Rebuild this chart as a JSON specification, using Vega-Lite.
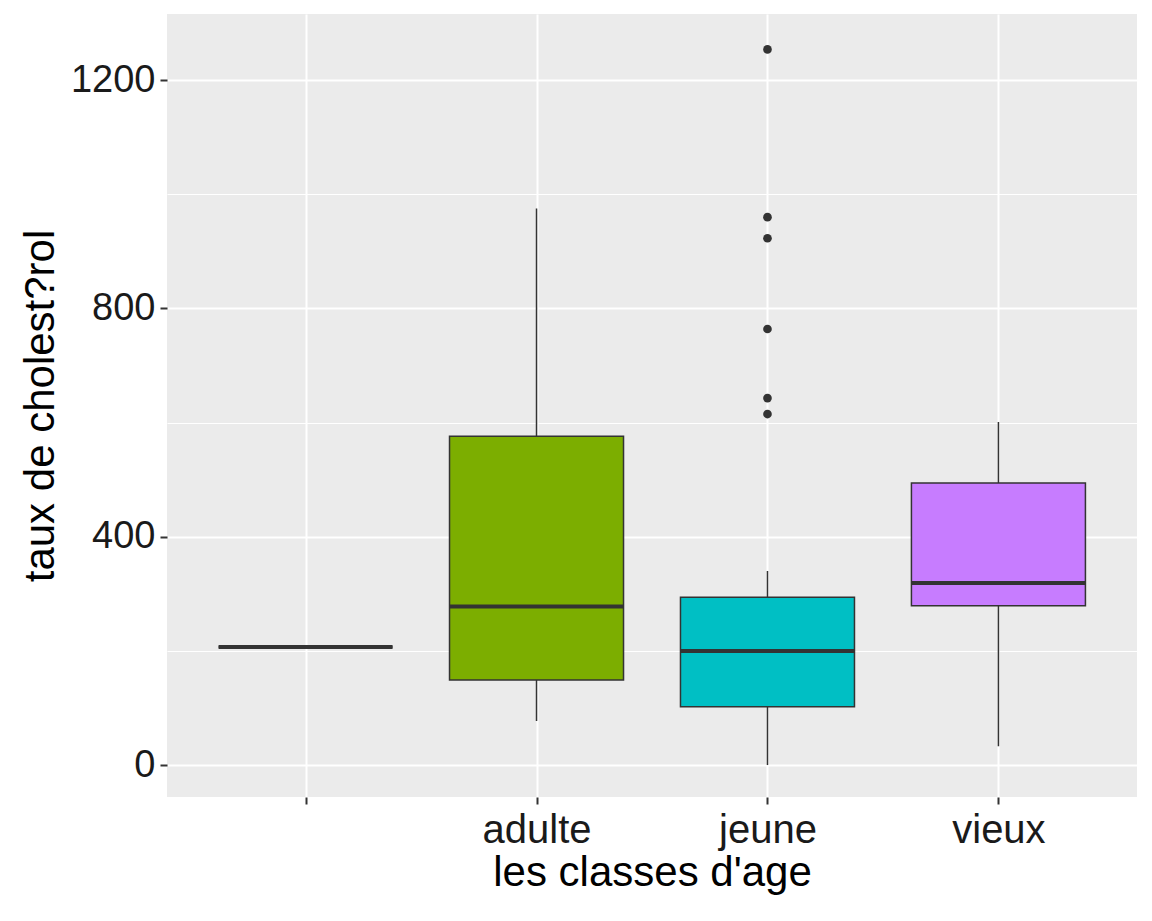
{
  "$schema": "https://vega.github.io/schema/vega-lite/v6.json",
  "width": 970,
  "height": 783,
  "autosize": "none",
  "padding": {"left": 167, "top": 14, "right": 15, "bottom": 124},
  "background": "white",
  "datasets": {
    "stats": [
      {"classe": "", "lower": 207, "q1": 207, "median": 207, "q3": 207, "upper": 207},
      {"classe": "adulte", "lower": 77, "q1": 149, "median": 278, "q3": 576, "upper": 975},
      {"classe": "jeune", "lower": 0, "q1": 102, "median": 200, "q3": 294, "upper": 340},
      {"classe": "vieux", "lower": 33, "q1": 279, "median": 319, "q3": 494, "upper": 601}
    ],
    "outliers": [
      {"classe": "jeune", "taux": 1254},
      {"classe": "jeune", "taux": 960},
      {"classe": "jeune", "taux": 923},
      {"classe": "jeune", "taux": 764},
      {"classe": "jeune", "taux": 643},
      {"classe": "jeune", "taux": 615}
    ]
  },
  "encoding": {
    "x": {
      "field": "classe", "type": "nominal",
      "scale": {"type": "point", "domain": ["", "adulte", "jeune", "vieux"], "padding": 0.6},
      "axis": {"title": "les classes d'age", "labelAngle": 0, "grid": true, "gridColor": "white", "gridWidth": 2, "domain": false, "tickColor": "#333333", "tickSize": 7, "tickWidth": 2, "labelFontSize": 40, "labelColor": "#1a1a1a", "labelPadding": 6, "titleFontSize": 42, "titleFontWeight": "normal", "titleColor": "black", "titlePadding": 2}
    }
  },
  "layer": [
    {
      "data": {"name": "stats"},
      "mark": {"type": "rule", "color": "#333333", "strokeWidth": 1.5},
      "encoding": {
        "y": {
          "field": "lower", "type": "quantitative",
          "scale": {"domain": [-56, 1316], "nice": false, "zero": false},
          "axis": {"title": "taux de cholest?rol", "values": [0, 200, 400, 600, 800, 1000, 1200],
            "labelExpr": "datum.value % 400 == 0 ? datum.label : ''",
            "format": "d",
            "gridColor": "white",
            "gridWidth": {"condition": {"test": "datum.value % 400 == 0", "value": 2}, "value": 1},
            "tickSize": {"condition": {"test": "datum.value % 400 == 0", "value": 7}, "value": 0},
            "tickColor": "#333333", "tickWidth": 2, "domain": false,
            "labelFontSize": 38, "labelColor": "#1a1a1a", "labelPadding": 5,
            "titleFontSize": 42, "titleFontWeight": "normal", "titleColor": "black", "titlePadding": 8}
        },
        "y2": {"field": "upper"}
      }
    },
    {
      "data": {"name": "stats"},
      "mark": {"type": "bar", "width": 174, "stroke": "#333333", "strokeWidth": 1.5},
      "encoding": {
        "y": {"field": "q1", "type": "quantitative"},
        "y2": {"field": "q3"},
        "color": {"field": "classe", "type": "nominal", "legend": null,
          "scale": {"domain": ["", "adulte", "jeune", "vieux"], "range": ["#F8766D", "#7CAE00", "#00BFC4", "#C77CFF"]}}
      }
    },
    {
      "data": {"name": "stats"},
      "mark": {"type": "tick", "orient": "horizontal", "size": 174, "thickness": 4, "color": "#333333", "opacity": 1},
      "encoding": {"y": {"field": "median", "type": "quantitative"}}
    },
    {
      "data": {"name": "outliers"},
      "mark": {"type": "circle", "size": 75, "color": "#333333", "opacity": 1},
      "encoding": {"y": {"field": "taux", "type": "quantitative"}}
    }
  ],
  "config": {
    "view": {"fill": "#EBEBEB", "stroke": null},
    "font": "Liberation Sans"
  }
}
